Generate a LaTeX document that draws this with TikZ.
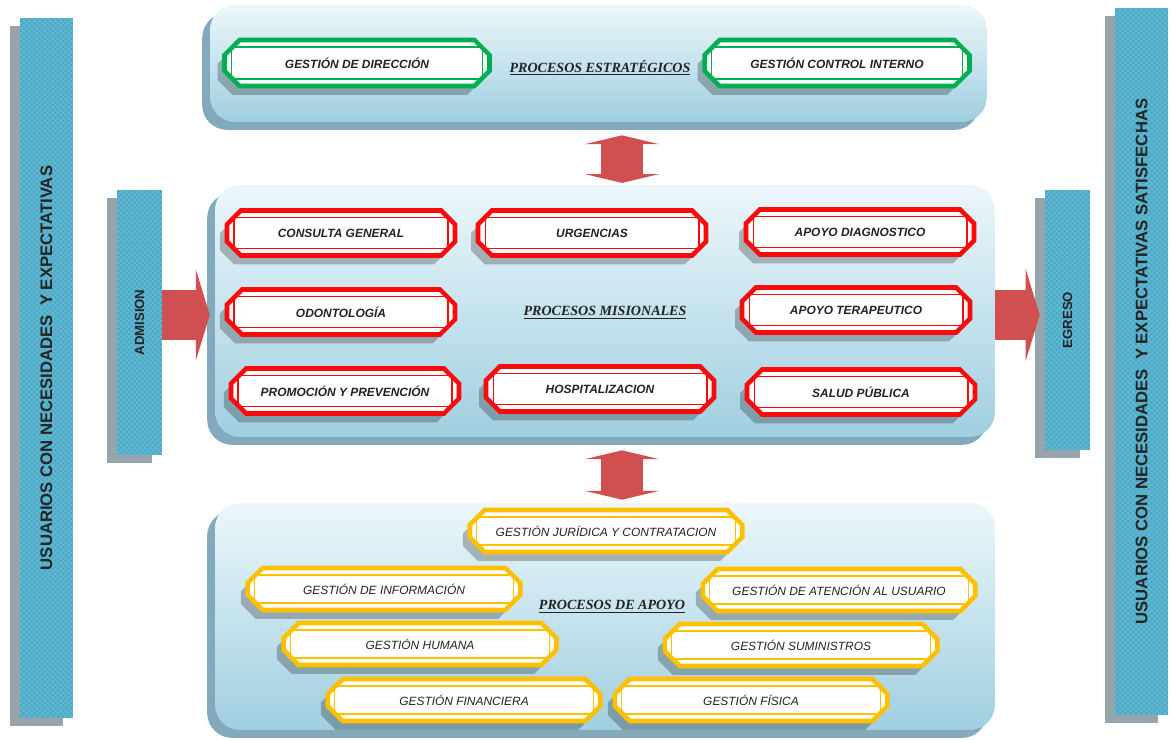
\documentclass[tikz,border=0pt]{standalone}
\usepackage{fontspec}
\setmainfont{Liberation Sans}
\newfontfamily\titlefont{Liberation Serif}
\usetikzlibrary{shapes.misc,shadows,arrows.meta,patterns,positioning}
%
\definecolor{barblue}{RGB}{72,170,200}
\definecolor{bargray}{RGB}{150,165,172}
\definecolor{paneltop}{RGB}{236,247,251}
\definecolor{panelbot}{RGB}{160,207,224}
\definecolor{panelshadow}{RGB}{130,170,188}
\definecolor{arrowred}{RGB}{208,80,82}
\definecolor{estgreen}{RGB}{0,176,80}
\definecolor{misred}{RGB}{250,10,10}
\definecolor{apoyellow}{RGB}{255,192,0}
\definecolor{txtgray}{RGB}{35,35,35}

\begin{document}
\begin{tikzpicture}[x=0.02cm, y=-0.02cm,
  bar/.style={rectangle, fill=barblue, inner sep=0pt,
    postaction={pattern=north east lines, pattern color=barblue!80!white},
    postaction={pattern=north west lines, pattern color=barblue!80!white},
    drop shadow={shadow xshift=-5.5pt, shadow yshift=-4.5pt, fill=bargray, opacity=1},
    font=\bfseries\fontsize{9.5}{11}\selectfont, text=txtgray},
  panel/.style={rectangle, rounded corners=0.5cm, top color=paneltop, bottom color=panelbot,
    drop shadow={shadow xshift=-4.5pt, shadow yshift=-4.5pt, fill=panelshadow, opacity=1}},
  ptitle/.style={font=\titlefont\bfseries\itshape\fontsize{8}{10}\selectfont, text=txtgray},
  procbox/.style={chamfered rectangle, chamfered rectangle xsep=5.5pt, chamfered rectangle ysep=5.5pt,
    fill=white, line width=2.6pt, inner sep=0pt, text=txtgray,
    drop shadow={shadow xshift=-4pt, shadow yshift=-5pt, fill=black, opacity=0.25}},
  procin/.style={chamfered rectangle, chamfered rectangle xsep=4.8pt, chamfered rectangle ysep=4.8pt,
    line width=0.6pt, inner sep=0pt},
  estbox/.style={procbox, draw=estgreen, minimum width=5.3cm, minimum height=0.92cm,
    font=\bfseries\itshape\fontsize{6.8}{8}\selectfont},
  estin/.style={procin, draw=estgreen, minimum width=5.02cm, minimum height=0.64cm},
  misbox/.style={procbox, draw=misred, minimum width=4.56cm, minimum height=0.9cm,
    font=\bfseries\itshape\fontsize{6.8}{8}\selectfont},
  misin/.style={procin, draw=misred, minimum width=4.28cm, minimum height=0.62cm},
  apobox/.style={procbox, draw=apoyellow, minimum width=5.45cm, minimum height=0.84cm,
    font=\itshape\fontsize{6.8}{8}\selectfont},
  apoin/.style={procin, draw=apoyellow, minimum width=5.17cm, minimum height=0.56cm},
  hflow/.style={draw=arrowred, line width=28pt, -{Triangle[width=52pt,length=8pt]}},
  vflow/.style={draw=arrowred, line width=24pt,
    {Triangle[width=42pt,length=5pt]}-{Triangle[width=42pt,length=5pt]}}]
  %
  \useasboundingbox (0,0) rectangle (1173,740);
  %
  \node[bar, minimum width=1.06cm, minimum height=14cm] (usu) at (46.5,368)
    {\rotatebox{90}{USUARIOS CON NECESIDADES\ \ Y EXPECTATIVAS}};
  \node[bar, minimum width=0.9cm, minimum height=5.3cm] (adm) at (139.5,322.5)
    {\fontsize{7.5}{9}\selectfont\rotatebox{90}{ADMISION}};
  \node[bar, minimum width=0.9cm, minimum height=5.2cm] (egr) at (1067.5,320)
    {\fontsize{7.5}{9}\selectfont\rotatebox{90}{EGRESO}};
  \node[bar, minimum width=1.06cm, minimum height=14.14cm] (sat) at (1141.5,361.5)
    {\rotatebox{90}{USUARIOS CON NECESIDADES\ \ Y EXPECTATIVAS SATISFECHAS}};
  %
  \node[panel, minimum width=15.54cm, minimum height=2.34cm] (est) at (598.5,63.5) {};
  \node[panel, minimum width=15.6cm, minimum height=5.04cm] (mis) at (605,311) {};
  \node[panel, minimum width=15.6cm, minimum height=4.54cm] (apo) at (605,616.5) {};
  %
  \coordinate (va) at (622,0);
  \coordinate (ha) at (0,315);
  \draw[vflow, shorten <=7.4pt, shorten >=1pt] (est.south -| va) -- (mis.north -| va);
  \draw[vflow, shorten <=7.4pt, shorten >=1.7pt] (mis.south -| va) -- (apo.north -| va);
  \draw[hflow, shorten >=2.8pt] (adm.east |- ha) -- (mis.west |- ha);
  \draw[hflow, shorten >=2.8pt] (mis.east |- ha) -- (egr.west |- ha);
  %
  \node[ptitle] (est-t) at (600,68) {\underline{PROCESOS ESTRATÉGICOS}};
  \node[ptitle] (mis-t) at (605,313) {\underline{PROCESOS MISIONALES}};
  \node[ptitle] (apo-t) at (612,607) {\underline{PROCESOS DE APOYO}};
  %
  \foreach \n/\x/\y/\t in {gd/357/63/GESTIÓN DE DIRECCIÓN, gci/837/63/GESTIÓN CONTROL INTERNO}
  {
    \node[estbox] (\n) at (\x,\y) {\t};
    \node[estin] (\n-in) at (\n) {};
  }
  %
  \foreach \n/\x/\y/\t in {cg/341/233/CONSULTA GENERAL, urg/592/233/URGENCIAS,
    ad/860/232/APOYO DIAGNOSTICO, odo/341/312/ODONTOLOGÍA, at/856/310/APOYO TERAPEUTICO,
    pyp/345/391/PROMOCIÓN Y PREVENCIÓN, hos/600/389/HOSPITALIZACION, sp/861/392/SALUD PÚBLICA}
  {
    \node[misbox] (\n) at (\x,\y) {\t};
    \node[misin] (\n-in) at (\n) {};
  }
  %
  \foreach \n/\x/\y/\t in {jur/606/531/GESTIÓN JURÍDICA Y CONTRATACION,
    inf/384/589/GESTIÓN DE INFORMACIÓN, aten/839/590/GESTIÓN DE ATENCIÓN AL USUARIO,
    hum/420/644/GESTIÓN HUMANA, sum/801/645/GESTIÓN SUMINISTROS,
    fin/464/700/GESTIÓN FINANCIERA, fis/751/700/GESTIÓN FÍSICA}
  {
    \node[apobox] (\n) at (\x,\y) {\t};
    \node[apoin] (\n-in) at (\n) {};
  }
  %
\end{tikzpicture}
\end{document}
